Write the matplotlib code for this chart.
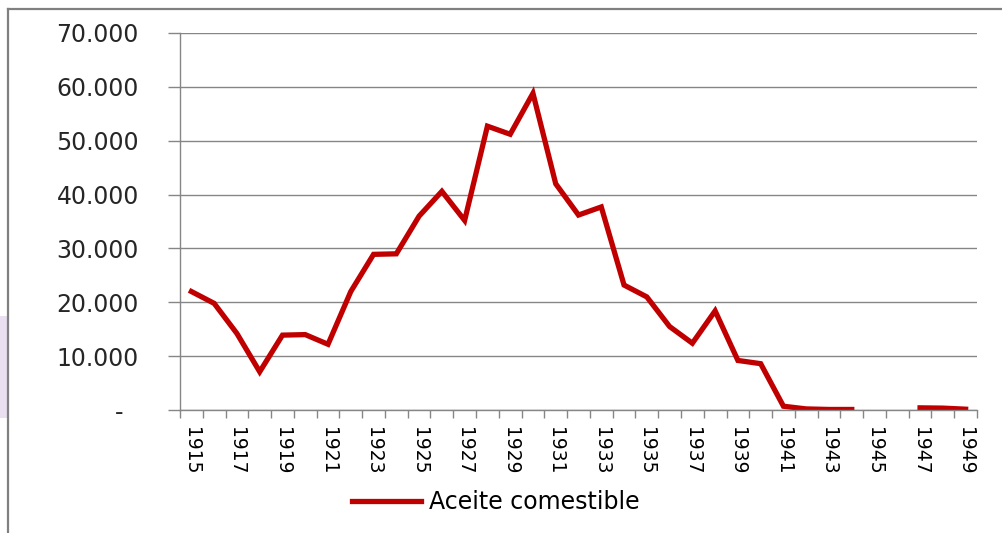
import numpy as np
import matplotlib.pyplot as plt
from matplotlib.lines import Line2D
from matplotlib.patches import Rectangle
from matplotlib.ticker import FixedLocator, FuncFormatter

# Years and values (edible oil), 1945 and 1946 have no data
years = list(range(1915, 1950))
aceite = [22000, 19800, 14200, 7100, 13900, 14000, 12200, 22000, 28900, 29000,
          36000, 40600, 35200, 52700, 51200, 58800, 42000, 36200, 37700, 23200,
          21000, 15500, 12400, 18400, 9200, 8600, 700, 200, 100, 100,
          np.nan, np.nan, 400, 350, 150]
y_ticks = [0, 10000, 20000, 30000, 40000, 50000, 60000, 70000]

red = '#c00000'
gray = '#868686'

fig = plt.figure(figsize=(10.03, 5.33), dpi=100)
ax = fig.add_axes([180 / 1003, 1 - 410 / 533, 797 / 1003, 377 / 533])

x = np.arange(len(years))
ax.plot(x, aceite, color=red, linewidth=3.8, solid_joinstyle='miter',
        label='Aceite comestible')

# y axis: Excel style thousands with dot, zero as "-"
def fmt_y(v, pos):
    if v == 0:
        return '-  '
    return '{:,.0f}'.format(v).replace(',', '.')

ax.set_ylim(0, 70000)
ax.set_yticks(y_ticks)
ax.yaxis.set_major_formatter(FuncFormatter(fmt_y))
ax.tick_params(axis='y', length=8.6, width=1, color=gray, pad=21,
               labelsize=17, labelcolor='#262626')
ax.grid(axis='y', color=gray, linewidth=1)
ax.set_axisbelow(True)

# x axis: label every second year, tick marks between categories
ax.set_xlim(-0.5, len(years) - 0.5)
ax.set_xticks(x[::2])
ax.set_xticklabels([str(y) for y in years[::2]], rotation=-90)
ax.xaxis.set_minor_locator(FixedLocator(np.arange(-0.5, len(years), 1)))
ax.tick_params(axis='x', which='major', length=0, pad=12, labelsize=13.5,
               labelcolor='black')
ax.tick_params(axis='x', which='minor', length=5.8, width=1, color=gray)

for side in ['top', 'right']:
    ax.spines[side].set_visible(False)
for side in ['left', 'bottom']:
    ax.spines[side].set_color(gray)
    ax.spines[side].set_linewidth(1)

fig.legend(loc='center left', bbox_to_anchor=(340 / 1003, 1 - 502 / 533),
           frameon=False, fontsize=17, borderpad=0, handlelength=2.95,
           handletextpad=0.3)

# outer frame and the lavender strip at the left edge
fig.add_artist(Line2D([8 / 1003, 1], [1 - 9 / 533] * 2, color='#808080', linewidth=1.6))
fig.add_artist(Line2D([8 / 1003] * 2, [0, 1 - 9 / 533], color='#808080', linewidth=1.6))
fig.add_artist(Rectangle((0, 1 - 418 / 533), 7 / 1003, 102 / 533,
                         color='#e9dff0', linewidth=0))

plt.savefig('out.png', dpi=100)
